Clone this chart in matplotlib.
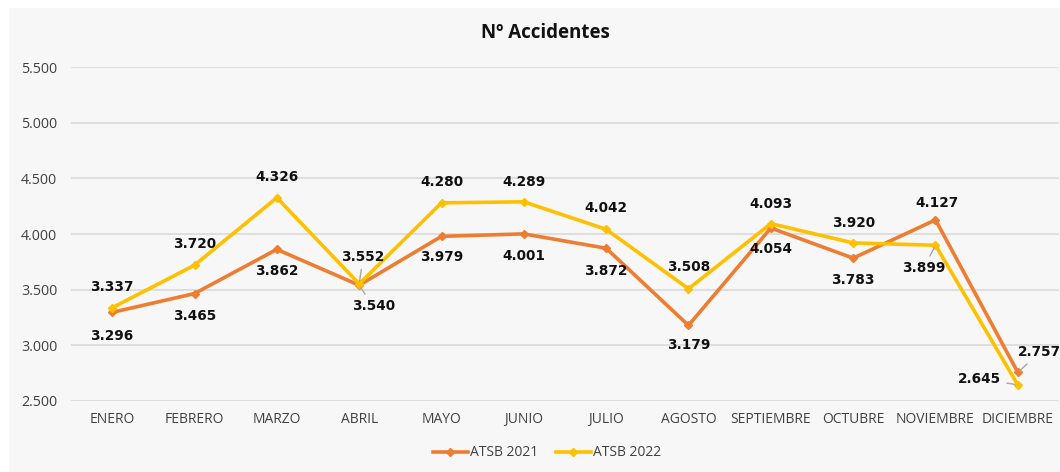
import matplotlib
matplotlib.use("Agg")
import matplotlib.pyplot as plt
from matplotlib.patches import Rectangle

months = ["ENERO", "FEBRERO", "MARZO", "ABRIL", "MAYO", "JUNIO", "JULIO",
          "AGOSTO", "SEPTIEMBRE", "OCTUBRE", "NOVIEMBRE", "DICIEMBRE"]
atsb_2021 = [3296, 3465, 3862, 3540, 3979, 4001, 3872, 3179, 4054, 3783, 4127, 2757]
atsb_2022 = [3337, 3720, 4326, 3552, 4280, 4289, 4042, 3508, 4093, 3920, 3899, 2645]
yticks = [2500, 3000, 3500, 4000, 4500, 5000, 5500]

# label offsets in pixels (dx, dy), and whether a leader line is drawn
off_2021 = [(0, -24), (0, -22), (0, -22), (14, -21), (0, -21), (0, -22), (0, -23),
            (0, -20), (0, -21), (0, -22), (2, 17), (22, 20)]
lead_2021 = [False] * 12
lead_2021[3] = True
lead_2021[11] = True
off_2022 = [(0, 21), (0, 21), (0, 21), (4, 27), (0, 21), (0, 20), (0, 21),
            (0, 22), (0, 20), (0, 20), (-12, -23), (-38, 6)]
lead_2022 = [False] * 12
lead_2022[3] = True
lead_2022[10] = True
lead_2022[11] = True

W, H = 1060, 472
fig = plt.figure(figsize=(W / 100, H / 100), dpi=100, facecolor="white")
bg = Rectangle((9 / W, 0), 1, 1 - 8 / H, transform=fig.transFigure,
               facecolor="#f7f7f7", edgecolor="none", zorder=-10)
fig.patches.append(bg)

left = 71 / W
right = 1059 / W
bottom = 1 - 401 / H
top = 1 - 67 / H
ax = fig.add_axes([left, bottom, right - left, top - bottom])
ax.set_facecolor("none")
ax.set_zorder(1)

x = list(range(len(months)))
c21 = "#ED7D31"
c22 = "#FFC000"
ax.plot(x, atsb_2021, color=c21, lw=2.6, marker="D", ms=4.5, label="ATSB 2021", zorder=3)
ax.plot(x, atsb_2022, color=c22, lw=2.6, marker="D", ms=4.5, label="ATSB 2022", zorder=4)

ax.set_xlim(-0.5, len(months) - 0.5)
ax.set_ylim(2500, 5500)
ax.set_yticks(yticks)
ax.set_yticklabels([f"{v:,}".replace(",", ".") for v in yticks],
                   fontfamily="Open Sans", fontsize=10.3, color="#404040")
ax.set_xticks(x)
ax.set_xticklabels(months, fontfamily="Open Sans", fontsize=10, color="#404040")
ax.tick_params(axis="both", length=0)
ax.tick_params(axis="y", pad=10)
ax.tick_params(axis="x", pad=8)
ax.grid(axis="y", color="#d9d9d9", lw=1.2)
ax.set_axisbelow(True)
for s in ax.spines.values():
    s.set_visible(False)


def fmt(v):
    return f"{v:,}".replace(",", ".")


def label(vals, offs, leads):
    for i, v in enumerate(vals):
        dx, dy = offs[i]
        kw = {}
        if leads[i]:
            kw["arrowprops"] = dict(arrowstyle="-", color="#a6a6a6", lw=1.0,
                                    shrinkA=2, shrinkB=2)
        ax.annotate(fmt(v), (i, v), xytext=(dx, dy), textcoords="offset pixels",
                    ha="center", va="center", fontsize=9.8, fontweight="bold",
                    fontfamily="DejaVu Sans", color="#111111", zorder=6,
                    annotation_clip=False, **kw)


label(atsb_2021, off_2021, lead_2021)
label(atsb_2022, off_2022, lead_2022)

fig.text(545 / W, 1 - 33 / H, "Nº Accidentes", ha="center", va="center",
         fontsize=13.5, fontweight="bold", fontfamily="Open Sans", color="#111111")

leg = fig.legend(loc="center", bbox_to_anchor=(547 / W, 1 - 453 / H), ncol=2,
                 frameon=False, prop={"family": "Open Sans", "size": 10},
                 handlelength=2.5, handletextpad=0.15, columnspacing=1.3)
for t in leg.get_texts():
    t.set_color("#404040")

fig.savefig("out.png", dpi=100, facecolor="white")
